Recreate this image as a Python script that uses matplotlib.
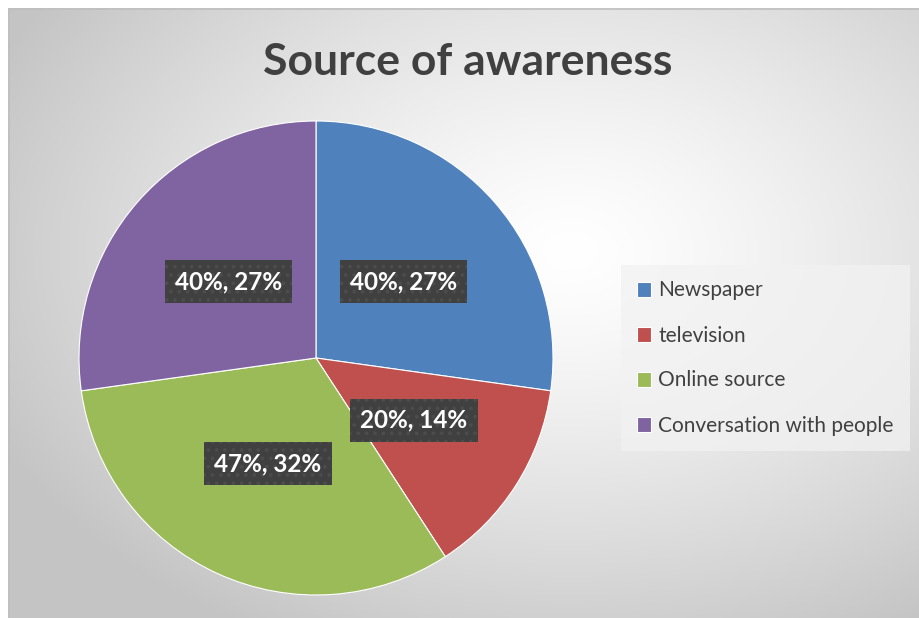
import numpy as np
import matplotlib
matplotlib.use("Agg")
import matplotlib.pyplot as plt

plt.rcParams['font.family'] = ['Lato', 'DejaVu Sans']

# survey answers, share of respondents per source
sources = ['Newspaper', 'television', 'Online source', 'Conversation with people']
percent = [40, 20, 47, 40]
colors = ['#4f81bd', '#c0504d', '#9bbb59', '#8064a2']

W, H = 919, 618
fig = plt.figure(figsize=(W / 100, H / 100), dpi=100)

# radial grey backdrop behind the chart
bg = fig.add_axes([0, 0, 1, 1])
yy, xx = np.mgrid[0:H, 0:W]
d = np.sqrt(((xx - 570) / 640.0) ** 2 + ((yy - 250) / 440.0) ** 2)
val = 255 - (255 - 196) * np.clip(d, 0, 1) ** 1.3
img = np.dstack([val, val, val]) / 255.0
img[:, :8] = 1.0
img[:8, :] = 1.0
bg.imshow(img, extent=[0, W, H, 0], aspect='auto', interpolation='bilinear')
bg.plot([8.5, 8.5, W], [H, 8.5, 8.5], color='#bfbfbf', lw=1.2)
bg.set_xlim(0, W)
bg.set_ylim(H, 0)
bg.axis('off')

fig.text(468 / W, 1 - 62 / H, 'Source of awareness', ha='center', va='center',
         fontsize=32, fontweight='bold', color='#404040')

total = sum(percent)


def fmt(p):
    v = int(round(p * total / 100.0))
    return '%d%%, %d%%' % (v, round(p))


r = 237
cx, cy = 316, 358
ax = fig.add_axes([(cx - r) / W, (H - cy - r) / H, 2 * r / W, 2 * r / H])
wedges, _, autotexts = ax.pie(percent, colors=colors, startangle=90, counterclock=False,
                              autopct=fmt, pctdistance=0.49,
                              wedgeprops=dict(edgecolor='white', linewidth=0.8),
                              textprops=dict(color='white', fontsize=17.5, fontweight='bold'))
plt.rcParams['hatch.linewidth'] = 1.5
for t in autotexts:
    t.set_bbox(dict(boxstyle='square,pad=0.42', facecolor='#404040',
                    edgecolor='#4c4c4c', hatch='..', linewidth=0))
ax.set_xlim(-1, 1)
ax.set_ylim(-1, 1)
ax.set_aspect('equal')
ax.axis('off')

leg = fig.legend(wedges, sources, loc='center left', bbox_to_anchor=(621 / W, 1 - 358 / H),
                 frameon=True, fancybox=False, facecolor='#f2f2f2', edgecolor='none',
                 framealpha=0.75, fontsize=15, labelcolor='#404040', handlelength=0.7,
                 handleheight=0.7, handletextpad=0.35, labelspacing=1.2,
                 borderpad=0.75, borderaxespad=0)

fig.savefig('out.png', dpi=100)
